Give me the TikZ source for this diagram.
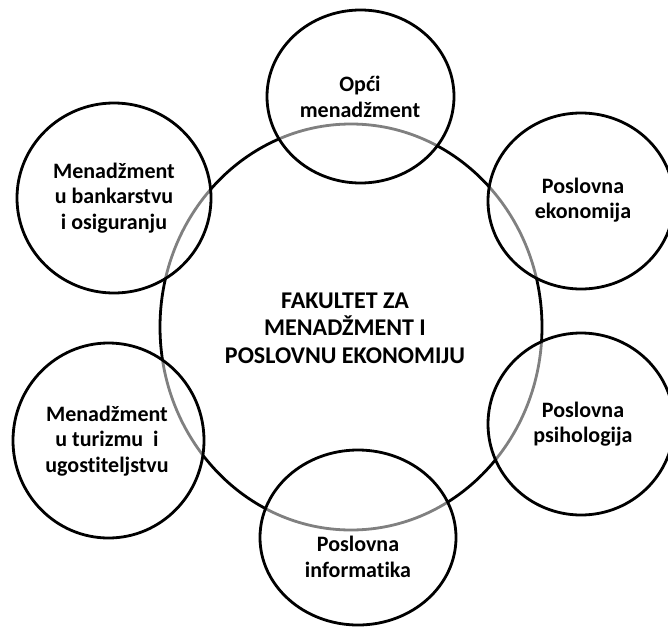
\documentclass[tikz,border=0pt]{standalone}
\usepackage{fontspec}
\setmainfont{Carlito}[Ligatures={NoCommon,NoContextual}]
\usetikzlibrary{shapes.geometric}
\begin{document}
\begin{tikzpicture}[x=1pt,y=-1pt,
  bub/.style={draw=black, line width=2.8pt, ellipse, fill=white, fill opacity=0.5, inner sep=0pt, outer sep=0pt},
  big/.style={draw=black, line width=2.8pt, ellipse, inner sep=0pt, outer sep=0pt, minimum width=382pt, minimum height=406pt},
  txt/.style={font=\fontsize{22}{25.5}\selectfont\bfseries, align=center, text=black, inner sep=0pt},
  bigtxt/.style={font=\fontsize{24}{27.5}\selectfont\bfseries, align=center, text=black, inner sep=0pt}]
\useasboundingbox (0,0) rectangle (668,626);
\node[big] (fak) at (351,327) {};
\node[bub, minimum width=187pt, minimum height=173pt] (opci) at (360.5,96.5) {};
\node[bub, minimum width=194pt, minimum height=190pt] (bank) at (114,198) {};
\node[bub, minimum width=191pt, minimum height=195pt] (tur) at (108.5,440.5) {};
\node[bub, minimum width=186pt, minimum height=176pt] (eko) at (581,201) {};
\node[bub, minimum width=186pt, minimum height=182pt] (psi) at (581,424) {};
\node[bub, minimum width=196pt, minimum height=175pt] (inf) at (358,537.5) {};
\node[bigtxt] (tfak) at (345,328) {FAKULTET ZA\\MENADŽMENT I\\POSLOVNU EKONOMIJU};
\node[txt] (topci) at (360,97) {Opći\\menadžment};
\node[txt] (tbank) at (114,198) {Menadžment\\u bankarstvu\\i osiguranju};
\node[txt] (ttur) at (107,441) {Menadžment\\u turizmu\ \ i\\ugostiteljstvu};
\node[txt] (teko) at (583,200) {Poslovna\\ekonomija};
\node[txt] (tpsi) at (583,424) {Poslovna\\psihologija};
\node[txt] (tinf) at (358,557) {Poslovna\\informatika};
\end{tikzpicture}
\end{document}
